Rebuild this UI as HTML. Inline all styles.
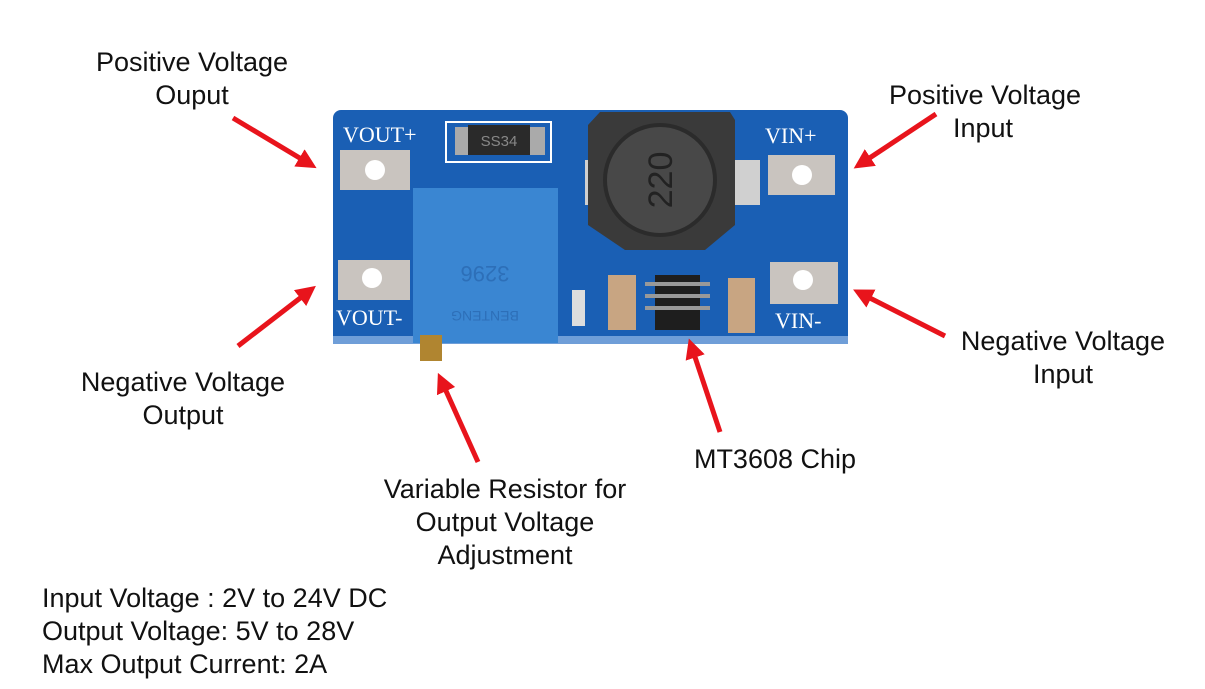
<!DOCTYPE html>
<html><head><meta charset="utf-8"><style>
html,body{margin:0;padding:0;background:#fff;width:1205px;height:689px;overflow:hidden}
svg{display:block}
.t{font-family:"Liberation Sans",sans-serif;font-size:27px;fill:#111}
.s{font-family:"Liberation Serif",serif;font-size:22px;fill:#fff}
</style></head><body>
<svg width="1205" height="689" viewBox="0 0 1205 689">
<defs>
<marker id="a" markerWidth="4" markerHeight="4" refX="2" refY="2" orient="auto" markerUnits="strokeWidth">
<path d="M0,0 L4,2 L0,4 z" fill="#e8141c"/></marker>
</defs>
<rect x="333" y="110" width="515" height="234" rx="8" fill="#1a5fb4"/>
<rect x="333" y="336" width="515" height="8" fill="#6f9ed8"/>
<text class="s" x="343" y="142">VOUT+</text>
<text class="s" x="336" y="325">VOUT-</text>
<text class="s" x="765" y="143">VIN+</text>
<text class="s" x="775" y="328">VIN-</text>
<rect x="340" y="150" width="70" height="40" fill="#c9c4bf"/><circle cx="375" cy="170" r="10" fill="#fff"/>
<rect x="338" y="260" width="72" height="40" fill="#c9c4bf"/><circle cx="372" cy="278" r="10" fill="#fff"/>
<rect x="768" y="155" width="67" height="40" fill="#c9c4bf"/><circle cx="802" cy="175" r="10" fill="#fff"/>
<rect x="770" y="262" width="68" height="42" fill="#c9c4bf"/><circle cx="803" cy="280" r="10" fill="#fff"/>
<rect x="446" y="122" width="105" height="40" fill="none" stroke="#fff" stroke-width="2"/>
<rect x="455" y="127" width="90" height="28" fill="#aaa"/>
<rect x="468" y="125" width="62" height="30" fill="#2a2a2a"/>
<text x="499" y="146" font-family="Liberation Sans" font-size="15" fill="#888" text-anchor="middle">SS34</text>
<rect x="585" y="160" width="175" height="45" fill="#d0d0d0"/>
<path d="M600,112 L730,112 L735,120 L735,225 L705,250 L625,250 L588,225 L588,125 Z" fill="#3a3a3a"/>
<circle cx="660" cy="180" r="55" fill="#484848" stroke="#2b2b2b" stroke-width="4"/>
<text x="660" y="180" font-family="Liberation Sans" font-size="34" fill="#222" text-anchor="middle" transform="rotate(-90 660 180)" dy="12">220</text>
<rect x="413" y="188" width="145" height="155" fill="#3a86d2"/>
<text x="485" y="280" font-family="Liberation Sans" font-size="22" fill="#2d6fb8" text-anchor="middle" transform="rotate(180 485 273)">3296</text>
<text x="485" y="325" font-family="Liberation Sans" font-size="14" fill="#2d6fb8" text-anchor="middle" transform="rotate(180 485 318)">BENTENG</text>
<rect x="420" y="335" width="22" height="26" fill="#b08530"/>
<rect x="572" y="290" width="13" height="36" fill="#ddd"/>
<rect x="608" y="275" width="28" height="55" fill="#c8a582"/>
<rect x="728" y="278" width="27" height="55" fill="#c8a582"/>
<rect x="655" y="275" width="45" height="55" fill="#1e1e1e"/>
<rect x="645" y="282" width="65" height="4" fill="#999"/><rect x="645" y="294" width="65" height="4" fill="#999"/><rect x="645" y="306" width="65" height="4" fill="#999"/>
<g stroke="#e8141c" stroke-width="5" marker-end="url(#a)">
<line x1="233" y1="118" x2="308" y2="163"/>
<line x1="936" y1="114" x2="862" y2="163"/>
<line x1="238" y1="346" x2="308" y2="292"/>
<line x1="945" y1="336" x2="862" y2="294"/>
<line x1="478" y1="462" x2="442" y2="382"/>
<line x1="720" y1="432" x2="692" y2="348"/>
</g>
<g class="t" text-anchor="middle">
<text x="192" y="71">Positive Voltage</text><text x="192" y="104">Ouput</text>
<text x="985" y="104">Positive Voltage</text><text x="983" y="137">Input</text>
<text x="183" y="391">Negative Voltage</text><text x="183" y="424">Output</text>
<text x="1063" y="350">Negative Voltage</text><text x="1063" y="383">Input</text>
<text x="775" y="468">MT3608 Chip</text>
<text x="505" y="498">Variable Resistor for</text><text x="505" y="531">Output Voltage</text><text x="505" y="564">Adjustment</text>
</g>
<g class="t">
<text x="42" y="607">Input Voltage : 2V to 24V DC</text>
<text x="42" y="640">Output Voltage: 5V to 28V</text>
<text x="42" y="673">Max Output Current:  2A</text>
</g>
</svg>
</body></html>
